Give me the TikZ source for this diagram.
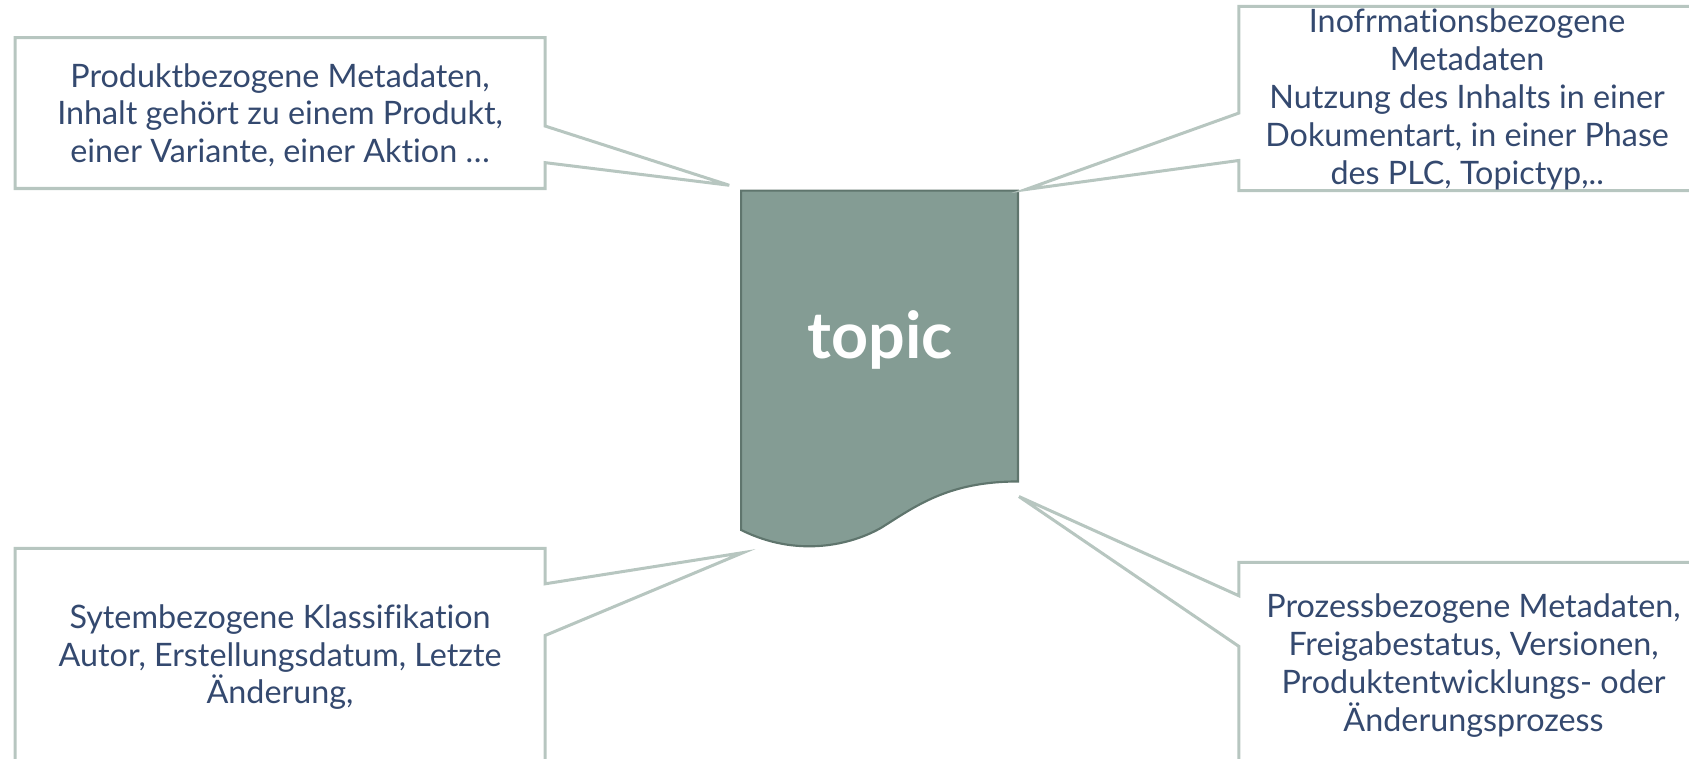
\documentclass[tikz,border=0pt]{standalone}
\usepackage{fontspec}
\setmainfont{Lato}[Ligatures=NoCommon]
\definecolor{notetext}{HTML}{34496F}
\definecolor{noteframe}{HTML}{B7C6C0}
\definecolor{docfill}{HTML}{849C94}
\definecolor{docframe}{HTML}{5F756D}
\tikzset{
	note/.style={align=center,text=notetext,font=\fontsize{15}{17.6}\selectfont,inner sep=0pt},
	frame/.style={draw=noteframe,line width=1.4pt,line join=miter},
	doc/.style={fill=docfill,draw=docframe,line width=1pt}
}

\begin{document}
\begin{tikzpicture}[x=0.5pt,y=-0.5pt]
	\useasboundingbox (0,0) rectangle (1568,704);
	\clip (0,0) rectangle (1568,704);

	\coordinate (tipA) at (677,172);
	\coordinate (tipB) at (952,176);
	\coordinate (tipC) at (690,513);
	\coordinate (tipD) at (946,461);

	% document shape
	\draw [doc] (688,177) -- (945,177) -- (945,447)
		.. controls (880,447) and (850,470) .. (818,490)
		.. controls (790,506) and (740,518) .. (688,492) -- cycle;
	\node [text=white,font=\fontsize{30}{34}\selectfont\bfseries,inner sep=0pt] (topic) at (817,316) {topic};

	% callouts
	\draw [frame] (14,35) -- (506,35) -- (506,117) -- (tipA) -- (506,151) -- (506,175) -- (14,175) -- cycle;
	\node [note] (prod) at (260,107) {Produktbezogene Metadaten,\\Inhalt gehört zu einem Produkt,\\einer Variante, einer Aktion …};

	\draw [frame] (1150,6) -- (1600,6) -- (1600,177) -- (1150,177) -- (1150,149) -- (tipB) -- (1150,105) -- cycle;
	\node [note] (info) at (1362,92) {Inofrmationsbezogene\\Metadaten\\Nutzung des Inhalts in einer\\Dokumentart, in einer Phase\\des PLC, Topictyp,..};

	\draw [frame] (14,509) -- (506,509) -- (506,542) -- (tipC) -- (506,590) -- (506,740) -- (14,740) -- cycle;
	\node [note] (sys) at (260,610) {Sytembezogene Klassifikation\\Autor, Erstellungsdatum, Letzte\\Änderung,};

	\draw [frame] (1150,522) -- (1600,522) -- (1600,740) -- (1150,740) -- (1150,600) -- (tipD) -- (1150,553) -- cycle;
	\node [note] (proz) at (1368,618) {Prozessbezogene Metadaten,\\Freigabestatus, Versionen,\\Produktentwicklungs- oder\\Änderungsprozess};
\end{tikzpicture}
\end{document}
